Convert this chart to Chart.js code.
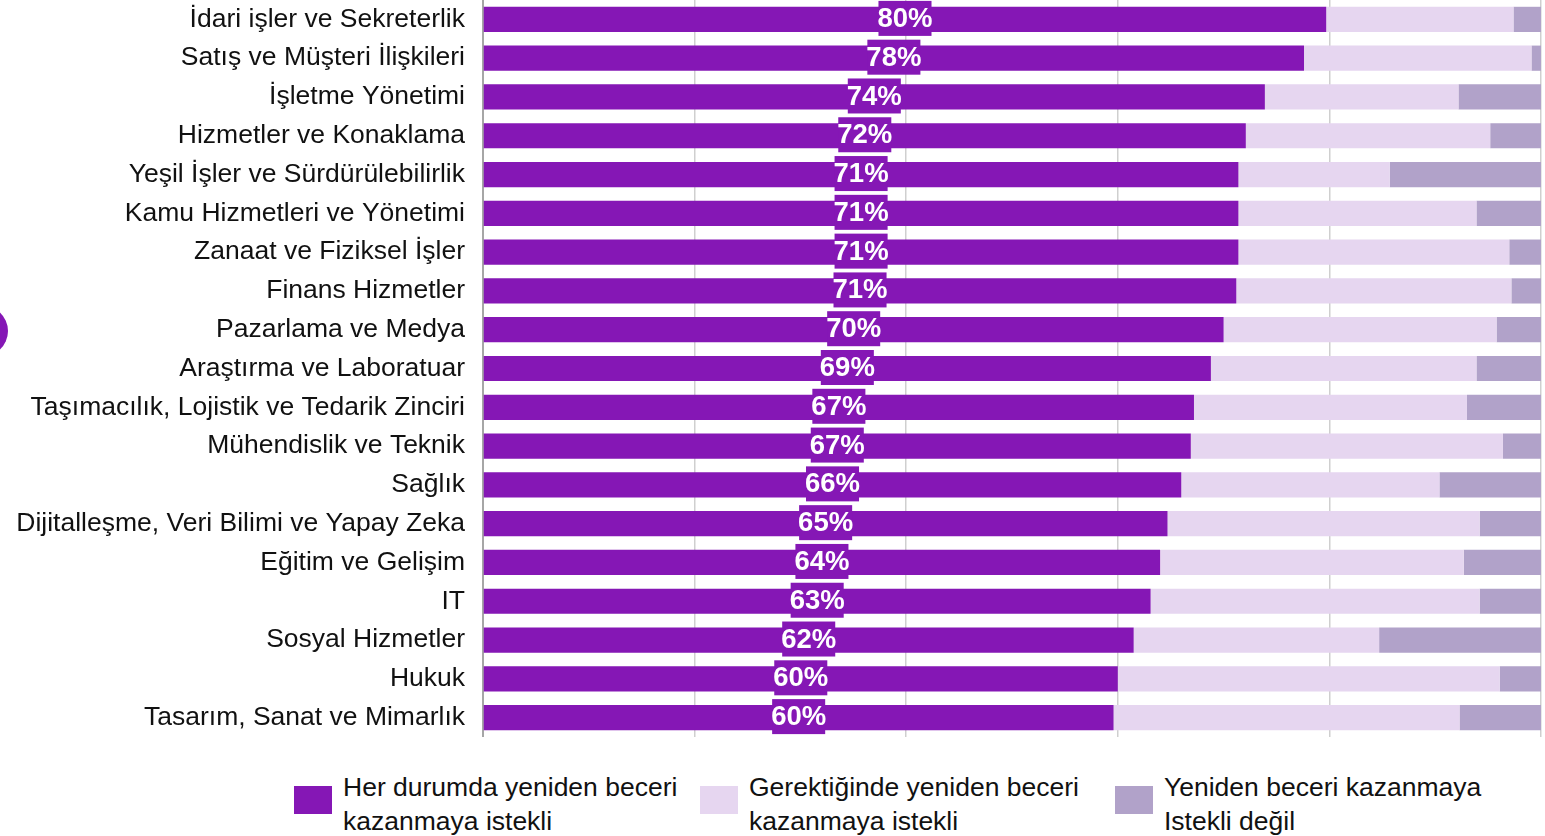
<!DOCTYPE html>
<html>
<head>
<meta charset="utf-8">
<script src="https://cdn.jsdelivr.net/npm/chart.js"></script>
<style>
  html, body { margin: 0; padding: 0; background: #fff; overflow: hidden; }
  body { width: 1545px; height: 836px; position: relative; font-family: "Liberation Sans", Arial, sans-serif; }
  #wrap { position: absolute; left: 0; top: 0; width: 1545px; height: 737px; }
  #dot { position: absolute; left: -50px; top: 304px; width: 58px; height: 54px; border-radius: 50%; background: #8517b5; }
  #legend { position: absolute; left: 294px; top: 770px; display: flex; }
  .item { display: flex; align-items: flex-start; }
  .box { width: 38px; height: 28px; margin-top: 16px; margin-right: 11px; flex: none; }
  .txt { font-size: 26.5px; line-height: 34px; color: #111; }
</style>
</head>
<body>
<div id="dot"></div>
<div id="wrap"><canvas id="chart"></canvas></div>
<div id="legend"></div>

<script>
const kategoriler = [
  'İdari işler ve Sekreterlik',
  'Satış ve Müşteri İlişkileri',
  'İşletme Yönetimi',
  'Hizmetler ve Konaklama',
  'Yeşil İşler ve Sürdürülebilirlik',
  'Kamu Hizmetleri ve Yönetimi',
  'Zanaat ve Fiziksel İşler',
  'Finans Hizmetler',
  'Pazarlama ve Medya',
  'Araştırma ve Laboratuar',
  'Taşımacılık, Lojistik ve Tedarik Zinciri',
  'Mühendislik ve Teknik',
  'Sağlık',
  'Dijitalleşme, Veri Bilimi ve Yapay Zeka',
  'Eğitim ve Gelişim',
  'IT',
  'Sosyal Hizmetler',
  'Hukuk',
  'Tasarım, Sanat ve Mimarlık'
];

const herDurumda = [79.7, 77.6, 73.9, 72.1, 71.4, 71.4, 71.4, 71.2, 70.0, 68.8, 67.2, 66.9, 66.0, 64.7, 64.0, 63.1, 61.5, 60.0, 59.6];
const gerektiginde = [17.7, 21.5, 18.3, 23.1, 14.3, 22.5, 25.6, 26.0, 25.8, 25.1, 25.8, 29.5, 24.4, 29.5, 28.7, 31.1, 23.2, 36.1, 32.7];
const istekliDegil = [2.6, 0.9, 7.8, 4.8, 14.3, 6.1, 3.0, 2.8, 4.2, 6.1, 7.0, 3.6, 9.6, 5.8, 7.3, 5.8, 15.3, 3.9, 7.7];

const seriAdlari = [
  ['Her durumda yeniden beceri', 'kazanmaya istekli'],
  ['Gerektiğinde yeniden beceri', 'kazanmaya istekli'],
  ['Yeniden beceri kazanmaya', 'Istekli değil']
];
const renkler = ['#8517b5', '#e6d6f0', '#b1a2c9'];

// yuzde etiketleri: ilk serinin ortasina, mor kutu icinde
const etiketPlugin = {
  id: 'etiketler',
  afterDatasetsDraw(chart) {
    const ctx = chart.ctx;
    const meta = chart.getDatasetMeta(0);
    ctx.save();
    ctx.font = 'bold 27.5px "Liberation Sans", Arial, sans-serif';
    ctx.textAlign = 'center';
    ctx.textBaseline = 'middle';
    meta.data.forEach((bar, i) => {
      const txt = Math.round(herDurumda[i]) + '%';
      const w = ctx.measureText(txt).width - 2;
      const cx = (bar.x + bar.base) / 2;
      const cy = bar.y - 1;
      ctx.fillStyle = renkler[0];
      ctx.fillRect(cx - w / 2, cy - 17.5, w, 35);
      ctx.fillStyle = '#fff';
      ctx.fillText(txt, cx, cy + 1);
    });
    ctx.restore();
  }
};

new Chart(document.getElementById('chart'), {
  type: 'bar',
  data: {
    labels: kategoriler,
    datasets: [herDurumda, gerektiginde, istekliDegil].map((d, i) => ({
      label: seriAdlari[i].join(' '),
      data: d,
      backgroundColor: renkler[i],
      borderWidth: 0,
      barPercentage: 0.65,
      categoryPercentage: 1
    }))
  },
  options: {
    indexAxis: 'y',
    responsive: true,
    maintainAspectRatio: false,
    animation: false,
    layout: { padding: { top: 0, right: 4, bottom: 0, left: 0 } },
    plugins: { legend: { display: false }, tooltip: { enabled: false } },
    scales: {
      x: {
        stacked: true,
        min: 0,
        max: 100,
        afterFit(scale) { scale.height = 0; scale.paddingLeft = 0; scale.paddingRight = 0; },
        ticks: { display: false, stepSize: 20 },
        grid: { color: '#cfcfcf', lineWidth: 1.5, drawTicks: false },
        border: { display: false }
      },
      y: {
        stacked: true,
        afterFit(scale) { scale.width = 483; scale.paddingTop = 0; scale.paddingBottom = 0; },
        ticks: {
          color: '#111',
          padding: 18,
          font: { size: 26.5, family: '"Liberation Sans", Arial, sans-serif' }
        },
        grid: { display: false, drawTicks: false },
        border: { display: true, color: '#a6a6a6', width: 2 }
      }
    }
  },
  plugins: [etiketPlugin]
});

// legend
const lg = document.getElementById('legend');
const genislik = [406, 415, 400];
seriAdlari.forEach((ad, i) => {
  const it = document.createElement('div');
  it.className = 'item';
  it.style.width = genislik[i] + 'px';
  it.innerHTML = '<div class="box" style="background:' + renkler[i] + '"></div><div class="txt">' + ad.join('<br>') + '</div>';
  lg.appendChild(it);
});
</script>
</body>
</html>
